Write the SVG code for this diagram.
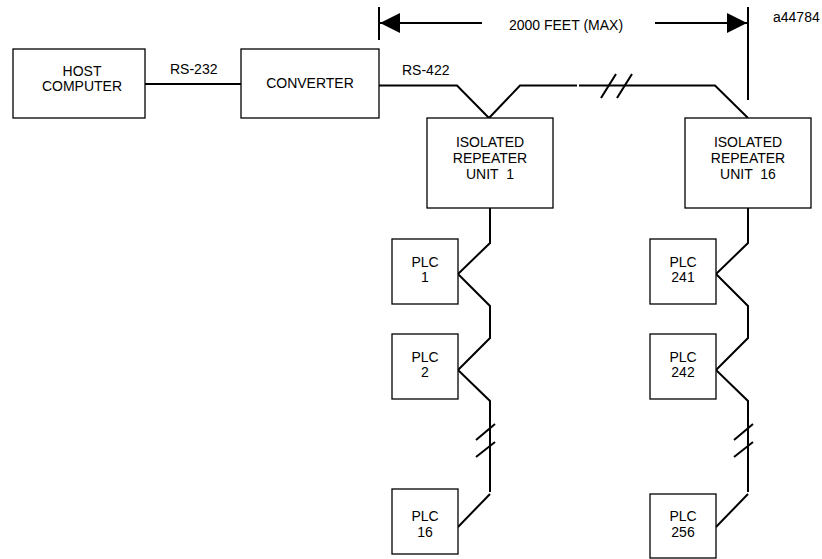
<svg xmlns="http://www.w3.org/2000/svg" width="822" height="559" viewBox="0 0 822 559">
<defs>
<style>
.box{fill:#fff;stroke:#000;stroke-width:1.3}
.w{fill:none;stroke:#000;stroke-width:2;stroke-linejoin:miter}
.t{font-family:"Liberation Sans",Arial,sans-serif;font-size:14px;fill:#000;text-anchor:middle}
.l{font-family:"Liberation Sans",Arial,sans-serif;font-size:14px;fill:#000}
</style>
<marker id="ah" viewBox="0 0 20 20" refX="20" refY="10" markerWidth="20" markerHeight="20" markerUnits="userSpaceOnUse" orient="auto">
<path d="M0,0 L20,10 L0,20 Z" fill="#000"/>
</marker>
</defs>
<rect width="822" height="559" fill="#fff"/>
<g id="connectors">
<line class="w" x1="379" y1="7" x2="379" y2="40" stroke-width="1.5"/>
<line class="w" x1="748" y1="7" x2="748" y2="100"/>
<line class="w" x1="482" y1="23" x2="380" y2="23" marker-end="url(#ah)"/>
<line class="w" x1="655" y1="23" x2="747" y2="23" marker-end="url(#ah)"/>
<line class="w" x1="145" y1="84" x2="241" y2="84"/>
<polyline class="w" points="379,85.5 457,85.5 489,118 520,85.5 577,85.5"/>
<polyline class="w" points="579,85.5 715,85.5 748,118"/>
<line class="w" x1="601" y1="98" x2="616" y2="74"/>
<line class="w" x1="617" y1="98" x2="632" y2="74"/>
<polyline class="w" points="490,208 490,243 458,274 490,306 490,338 458,370 490,401 490,492"/>
<polyline class="w" points="490,494 458,527"/>
<line class="w" x1="476" y1="440" x2="495" y2="424"/>
<line class="w" x1="476" y1="457" x2="495" y2="442"/>
<polyline class="w" points="748,208 748,243 716,274 748,306 748,338 716,370 748,401 748,492"/>
<polyline class="w" points="748,494 716,527"/>
<line class="w" x1="734" y1="440" x2="753" y2="424"/>
<line class="w" x1="734" y1="457" x2="753" y2="442"/>
</g>
<text class="t" x="566" y="30">2000 FEET (MAX)</text>
<text class="l" x="773" y="22">a44784</text>
<text class="l" x="170" y="74">RS-232</text>
<text class="l" x="402" y="75">RS-422</text>
<g id="host"><rect class="box" x="13" y="49" width="132" height="69"/><text class="t" x="82" y="76">HOST</text><text class="t" x="82" y="91">COMPUTER</text></g>
<g id="converter"><rect class="box" x="241" y="49" width="138" height="69"/><text class="t" x="310" y="88">CONVERTER</text></g>
<g id="rep1"><rect class="box" x="427" y="118" width="126" height="90"/><text class="t" x="490" y="147">ISOLATED</text><text class="t" x="490" y="163">REPEATER</text><text class="t" x="490" y="179" xml:space="preserve">UNIT  1</text></g>
<g id="rep16"><rect class="box" x="685" y="118" width="126" height="90"/><text class="t" x="748" y="147">ISOLATED</text><text class="t" x="748" y="163">REPEATER</text><text class="t" x="748" y="179" xml:space="preserve">UNIT  16</text></g>
<g id="plc1"><rect class="box" x="392" y="239" width="66" height="65"/><text class="t" x="425" y="267">PLC</text><text class="t" x="425" y="282">1</text></g>
<g id="plc2"><rect class="box" x="392" y="334" width="66" height="65"/><text class="t" x="425" y="362">PLC</text><text class="t" x="425" y="377">2</text></g>
<g id="plc16"><rect class="box" x="392" y="489" width="66" height="65"/><text class="t" x="425" y="521">PLC</text><text class="t" x="425" y="537">16</text></g>
<g id="plc241"><rect class="box" x="650" y="239" width="66" height="65"/><text class="t" x="683" y="267">PLC</text><text class="t" x="683" y="282">241</text></g>
<g id="plc242"><rect class="box" x="650" y="334" width="66" height="65"/><text class="t" x="683" y="362">PLC</text><text class="t" x="683" y="377">242</text></g>
<g id="plc256"><rect class="box" x="650" y="494" width="66" height="64"/><text class="t" x="683" y="521">PLC</text><text class="t" x="683" y="537">256</text></g>
</svg>
